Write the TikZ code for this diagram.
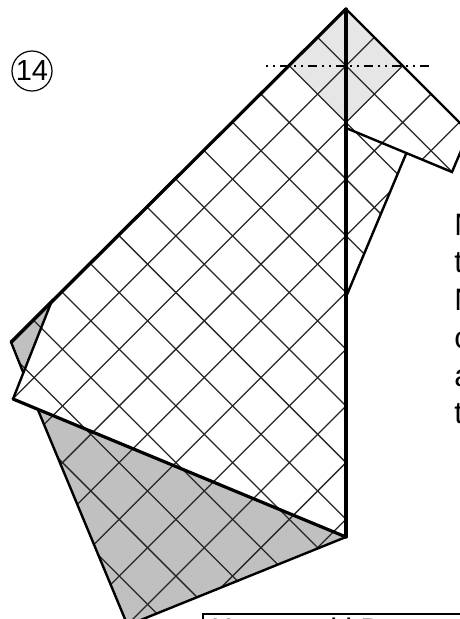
\documentclass[tikz,border=0pt]{standalone}
\usepackage{fontspec}
\setmainfont{Liberation Sans}
\definecolor{papergray}{HTML}{C0C0C0}
\definecolor{lightfold}{HTML}{E6E6E6}
\tikzset{
  gridline/.style={line width=0.95pt,draw=black!85},
  edgeline/.style={line width=1.8pt,draw=black,line join=miter,line cap=round},
  boldedge/.style={line width=2.4pt,draw=black,line join=miter,line cap=round},
  bigtext/.style={font=\fontsize{23.25pt}{23.25pt}\selectfont,inner sep=0pt,anchor=base west},
}
\begin{document}
\begin{tikzpicture}[x=0.75pt,y=-0.75pt]
\useasboundingbox (0,0) rectangle (460,619);
\clip (0,0) rectangle (460,619);
% coordinates
\coordinate (A) at (346,9);
\coordinate (R) at (469,132);
\coordinate (F) at (452,172);
\coordinate (G) at (406,154);
\coordinate (H) at (346,297);
\coordinate (I) at (346,128);
\coordinate (B) at (346,537);
\coordinate (T) at (127.6,625.3);
\coordinate (C) at (38,410);
\coordinate (D) at (13,399);
\coordinate (E) at (23,372);
\coordinate (L) at (11,342);
\coordinate (M) at (51,303);
% fills
\fill[papergray] (M) -- (L) -- (E) -- cycle;
\fill[papergray] (C) -- (T) -- (B) -- cycle;
\fill[lightfold] (346,9) -- (403,65.7) -- (346,122.4) -- (289.3,65.7) -- cycle;
% crease grid
\begin{scope}
\clip (A) -- (R) -- (F) -- (G) -- (H) -- (B) -- (T) -- (C) -- (D) -- (E) -- (L) -- cycle;
\foreach \k in {-4,...,14} {
  \pgfmathsetmacro{\c}{-337+56.7*\k}
  \draw[gridline] (-50,{-50+\c}) -- (520,{520+\c});
}
\foreach \k in {0,...,14} {
  \pgfmathsetmacro{\c}{355+56.7*\k}
  \draw[gridline] (-50,{\c+50}) -- (520,{\c-520});
}
\end{scope}
% edges
\draw[edgeline] (L) -- (E);
\draw[edgeline] (M) -- (D);
\draw[edgeline] (C) -- (T) -- (B);
\draw[edgeline] (R) -- (F) -- (I);
\draw[edgeline] (G) -- (H);
\draw[edgeline] (A) -- (R);
\draw[boldedge] (A) -- (L);
\draw[boldedge] (D) -- (B);
\draw[boldedge] (A) -- (B);
% fold line
\draw[line width=1.5pt,dash pattern=on 6.75pt off 3.75pt on 1.5pt off 3.75pt on 1.5pt off 3.75pt,dash phase=8.25pt] (263,65.7) -- (433,65.7);
% step number
\node[draw,circle,line width=0.9pt,minimum size=30pt,inner sep=0pt,font=\fontsize{21.75pt}{21.75pt}\selectfont] (stepnum) at (32,71) {14};
% text at the right edge
\node[bigtext] (t1) at (454,235) {M};
\node[bigtext] (t2) at (454,272) {t};
\node[bigtext] (t3) at (454,310) {N};
\node[bigtext] (t4) at (454,348) {c};
\node[bigtext] (t5) at (454,386) {a};
\node[bigtext] (t6) at (454,423) {t};
% box at the bottom
\draw[line width=1.5pt] (203,640) -- (203,614) -- (470,614);
\node[bigtext] (b1) at (211,640) {K};
\node[bigtext] (b2) at (330,640) {l};
\node[bigtext] (b3) at (345,640) {l};
\node[bigtext] (b4) at (360,640) {D};
\end{tikzpicture}
\end{document}
